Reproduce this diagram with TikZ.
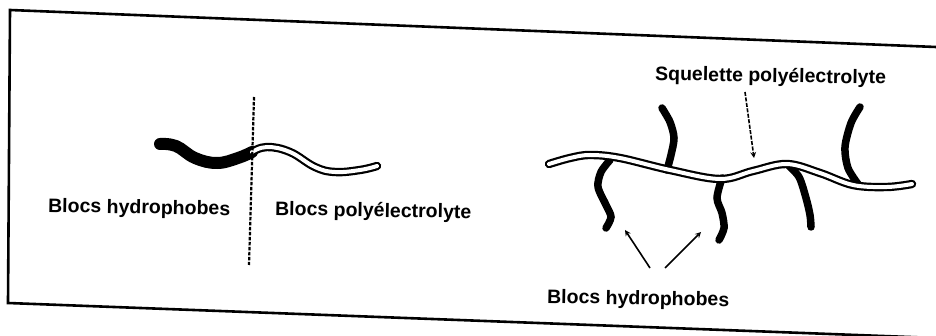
\documentclass[tikz,border=0pt]{standalone}
\usepackage{fontspec}
\setmainfont{Liberation Sans}
\usepackage{tikz}
\usetikzlibrary{arrows, positioning}
\tikzstyle{legend} = [font=\fontsize{19.5}{22}\selectfont\bfseries, inner sep=0pt, anchor=west, rotate=-1]
\tikzstyle{arrow} = [line width=1.6pt,->,>=stealth]
\tikzstyle{hydrophobe} = [draw=black, line width=7.5pt, line cap=round]
\tikzstyle{squelette} = [draw=black, line width=2.2pt, double=white, double distance=4pt, line cap=round]

\begin{document}
\begin{tikzpicture}[x=1pt, y=-1pt]
        \useasboundingbox (0,0) rectangle (936,336);
        \draw [line width=2.6pt] (936,47) -- (10,10) -- (8,303) -- (936,338);

        % copolymere a blocs
        \draw [hydrophobe, line width=12pt] plot[smooth, tension=0.7] coordinates {(160,144) (176,146) (195,158) (217,163) (238,158) (252,152)};
        \draw [squelette] plot[smooth, tension=0.7] coordinates {(252,152) (267,147) (290,152) (315,167) (335,172) (360,170) (377,166)};
        \draw [line width=2.2pt, dash pattern=on 3.5pt off 1.5pt] (254,97) -- (249,265);
        \node (hydroL) [legend] at (48,207) {Blocs hydrophobes};
        \node (polyL) [legend] at (275,210) {Blocs polyélectrolyte};

        % copolymere greffe
        \draw [hydrophobe] plot[smooth] coordinates {(662,108) (670,122) (674,138) (671,155) (667,170)};
        \draw [hydrophobe] plot[smooth] coordinates {(860,107) (851,123) (845,147) (848,168) (858,184)};
        \draw [hydrophobe] plot[smooth] coordinates {(610,160) (601,172) (598,187) (606,205) (611,217) (606,228)};
        \draw [hydrophobe] plot[smooth] coordinates {(722,178) (717,198) (722,213) (724,228) (719,240)};
        \draw [hydrophobe] plot[smooth] coordinates {(787,164) (799,177) (806,198) (810,215) (811,227)};
        \draw [squelette] plot[smooth, tension=0.6] coordinates {(549,164) (570,158) (590,155) (620,158) (670,170) (720,179) (753,171) (787,164) (820,173) (853,185) (887,187) (912,184)};

        \node (squel) [legend] at (655,75) {Squelette polyélectrolyte};
        \node (hydroR) [legend] at (547,298) {Blocs hydrophobes};

        \coordinate (tailS) at (745,92);
        \coordinate (tipS) at (754,158);
        \coordinate (tailA) at (650,268);
        \coordinate (tipA) at (625,230);
        \coordinate (tailB) at (665,268);
        \coordinate (tipB) at (701,232);
        \draw [arrow, dash pattern=on 4pt off 1.5pt] (tailS) -- (tipS);
        \draw [arrow] (tailA) -- (tipA);
        \draw [arrow] (tailB) -- (tipB);
\end{tikzpicture}
\end{document}
